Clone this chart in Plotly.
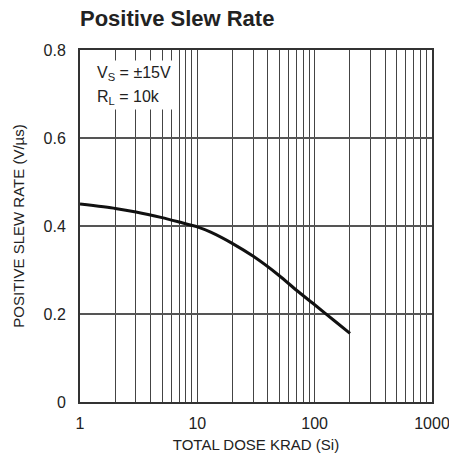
import plotly.graph_objects as go

# Data
dose_krad = [1, 2, 3, 5, 7, 10, 13, 20, 30, 50, 70, 100, 150, 200]
slew_rate = [0.450, 0.440, 0.432, 0.419, 0.409, 0.398, 0.386, 0.360, 0.331, 0.287, 0.254, 0.221, 0.183, 0.156]

x_major = [1, 10, 100, 1000]
x_major_labels = ["1", "10", "100", "1000"]
x_minor = [2, 3, 4, 5, 6, 7, 8, 9, 20, 30, 40, 50, 60, 70, 80, 90, 200, 300, 400, 500, 600, 700, 800, 900]
y_ticks = [0, 0.2, 0.4, 0.6, 0.8]
y_labels = ["0", "0.2", "0.4", "0.6", "0.8"]

FONT = "Liberation Sans, Arial, sans-serif"
GRID = "#444444"
TXT = "#222222"

fig = go.Figure()
fig.add_trace(go.Scatter(
    x=dose_krad, y=slew_rate, mode="lines",
    line=dict(color="#111111", width=3, shape="spline", smoothing=0.6),
    hoverinfo="skip", showlegend=False,
))

fig.update_layout(
    width=449, height=464,
    margin=dict(l=80, r=17, t=50, b=62, autoexpand=False),
    paper_bgcolor="white", plot_bgcolor="white",
    font=dict(family=FONT, size=15, color=TXT),
    xaxis=dict(
        type="log", range=[0, 3], automargin=False,
        tickvals=x_major, ticktext=x_major_labels,
        showgrid=True, gridcolor=GRID, gridwidth=1,
        minor=dict(tickvals=x_minor, showgrid=True, gridcolor=GRID, gridwidth=1, ticks=""),
        ticks="outside", ticklen=6, tickcolor="rgba(0,0,0,0)",
        ticklabeloverflow="allow",
        showline=True, linecolor="#333333", linewidth=2, mirror=True,
        zeroline=False,
        tickfont=dict(family=FONT, size=16, color=TXT),
        title=dict(text="TOTAL DOSE KRAD (Si)", font=dict(family=FONT, size=15, color=TXT), standoff=8),
    ),
    yaxis=dict(
        range=[0, 0.8], automargin=False,
        tickvals=y_ticks, ticktext=y_labels,
        showgrid=True, gridcolor="#555555", gridwidth=1.5,
        ticks="outside", ticklen=9, tickcolor="rgba(0,0,0,0)",
        ticklabeloverflow="allow",
        showline=True, linecolor="#333333", linewidth=2, mirror=True,
        zeroline=False,
        tickfont=dict(family=FONT, size=16, color=TXT),
        title=dict(text="POSITIVE SLEW RATE (V/µs)", font=dict(family=FONT, size=15, color=TXT), standoff=15),
    ),
    annotations=[
        dict(text=" ", xref="paper", yref="paper",
             x=1 / 352, y=1 - 10 / 352, xanchor="left", yanchor="top",
             width=92, height=48, bgcolor="white", borderpad=0,
             showarrow=False, font=dict(size=4)),
        dict(text="<b>Positive Slew Rate</b>", xref="paper", yref="paper",
             x=-2 / 352, y=1 + 31 / 352, xanchor="left", yanchor="middle",
             showarrow=False, font=dict(family=FONT, size=22, color=TXT)),
        dict(text="V<sub>S</sub> = ±15V", xref="paper", yref="paper",
             x=15 / 352, y=1 - 24 / 352, xanchor="left", yanchor="middle",
             showarrow=False, font=dict(family=FONT, size=16, color=TXT)),
        dict(text="R<sub>L</sub> = 10k", xref="paper", yref="paper",
             x=15 / 352, y=1 - 47 / 352, xanchor="left", yanchor="middle",
             showarrow=False, font=dict(family=FONT, size=16, color=TXT)),
    ],
)

fig.write_html(
    "out.html",
    config={"displayModeBar": False},
    post_script="document.body.style.margin='0';document.body.style.overflow='hidden';",
)
